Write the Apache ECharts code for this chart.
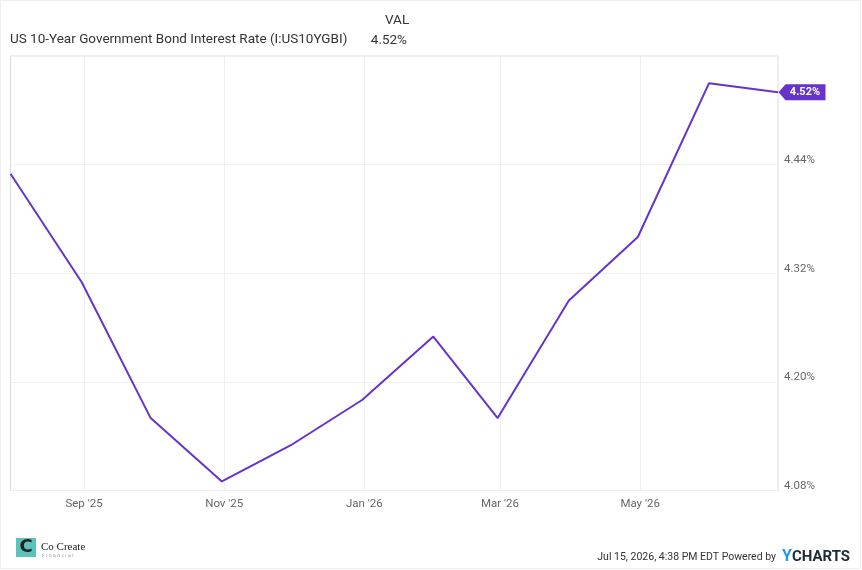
<!DOCTYPE html>
<html>
<head>
<meta charset="utf-8">
<script src="https://cdn.jsdelivr.net/npm/echarts@6/dist/echarts.min.js"></script>
<style>
html,body{margin:0;padding:0;background:#fff;}
#c{width:862px;height:570px;}
</style>
</head>
<body>
<div id="c"></div>
<script>
// ---- data ----
const dates = ['2025-07-31','2025-08-31','2025-09-30','2025-10-31','2025-11-30','2025-12-31',
               '2026-01-31','2026-02-28','2026-03-31','2026-04-30','2026-05-31','2026-06-30'];
const values = [4.43, 4.31, 4.16, 4.09, 4.13, 4.18, 4.25, 4.16, 4.29, 4.36, 4.53, 4.52];
const tickDates = ['2025-09-01','2025-11-01','2026-01-01','2026-03-01','2026-05-01'];
const tickLabels = ["Sep '25","Nov '25","Jan '26","Mar '26","May '26"];
const seriesName = 'US 10-Year Government Bond Interest Rate (I:US10YGBI)';
const lastValueText = '4.52%';
const footerText = 'Jul 15, 2026, 4:38 PM EDT Powered by';

function ts(s){ const p = s.split('-').map(Number); return Date.UTC(p[0], p[1]-1, p[2]); }
const xs = dates.map(ts);
const tickTs = tickDates.map(ts);
const seriesData = xs.map((x,i)=>[x, values[i]]);
const lastPt = seriesData[seriesData.length-1];

const purple = '#6633cc';
const chart = echarts.init(document.getElementById('c'), null, {renderer:'canvas'});
chart.setOption({
  animation:false,
  backgroundColor:'#fff',
  textStyle:{fontFamily:'Roboto, sans-serif'},
  grid:{left:10.5, right:84, top:56, bottom:79.5, show:true, borderColor:'#dcdcdc', borderWidth:1, backgroundColor:'transparent'},
  xAxis:{
    type:'value', min:xs[0], max:xs[xs.length-1],
    axisLine:{show:false}, axisTick:{show:false}, splitLine:{show:false},
    axisLabel:{
      customValues:tickTs, color:'#666', fontSize:11.5, margin:8,
      formatter:(v)=>{ const i = tickTs.indexOf(v); return i>=0 ? tickLabels[i] : ''; }
    }
  },
  yAxis:{
    type:'value', position:'right', min:4.08, max:4.56, interval:0.12,
    axisLine:{show:false}, axisTick:{show:false},
    splitLine:{lineStyle:{color:'#efefef', width:1}},
    axisLabel:{show:true, showMaxLabel:false, color:'#666', fontSize:11.5, margin:6,
      verticalAlign:'bottom', lineHeight:9,
      formatter:(v)=>v.toFixed(2)+'%'}
  },
  series:[
  {
    type:'line', data:[], z:1, silent:true,
    markLine:{
      silent:true, z:1, symbol:['none','none'], label:{show:false},
      lineStyle:{color:'#efefef', type:'solid', width:1},
      data: tickTs.map(t=>({xAxis:t}))
    }
  },
  {
    type:'line', name:seriesName, data:seriesData, showSymbol:false, symbol:'none', z:3,
    lineStyle:{color:purple, width:2}, itemStyle:{color:purple},
    markPoint:{
      silent:true,
      data:[{coord:lastPt, value:lastValueText}],
      symbol:'path://M0,8 L7,0 L47,0 L47,16 L7,16 Z',
      symbolSize:[47,16], symbolOffset:[24,0], symbolKeepAspect:false,
      itemStyle:{color:purple},
      label:{show:true, position:'inside', offset:[3,0], color:'#fff', fontWeight:'bold', fontSize:11,
        formatter:()=>lastValueText}
    }
  }],
  graphic:[
    {type:'rect', shape:{x:0.5,y:0.5,width:860,height:568}, style:{fill:'none', stroke:'#eeeeee', lineWidth:1}, silent:true},
    {type:'text', left:385, top:14, style:{text:'VAL', fill:'#333', fontSize:13.5, fontFamily:'Roboto, sans-serif'}},
    {type:'text', left:10, top:33, style:{text:seriesName, fill:'#333', fontSize:13.5, fontFamily:'Roboto, sans-serif'}},
    {type:'text', x:407, y:41, style:{text:lastValueText, fill:'#333', fontSize:13.5, fontFamily:'Roboto, sans-serif', align:'right', verticalAlign:'middle'}},
    // logo
    {type:'rect', shape:{x:16,y:538,width:20,height:19}, style:{fill:'#5cc3bb'}},
    {type:'text', x:26, y:547.5, style:{text:'C', fill:'#222', fontSize:18, fontWeight:'bold', fontFamily:'DejaVu Sans, sans-serif', align:'center', verticalAlign:'middle'}},
    {type:'text', x:41, y:547, style:{text:'Co Create', fill:'#222', fontSize:11, fontFamily:'Liberation Serif, DejaVu Serif, serif', verticalAlign:'middle'}},
    {type:'text', x:42, y:555.5, style:{text:'F i n a n c i a l', fill:'#888', fontSize:4.5, fontFamily:'DejaVu Sans, sans-serif', verticalAlign:'middle'}},
    // footer right
    {type:'text', x:776, y:557, style:{text:footerText, fill:'#333', fontSize:10.5, fontFamily:'Roboto, sans-serif', align:'right', verticalAlign:'middle'}},
    {type:'text', x:782, y:557, style:{
      text:'{y|Y}{c|CHARTS}', verticalAlign:'middle',
      rich:{
        y:{fill:'#1e9be8', fontSize:16, fontWeight:'bold', fontFamily:'Roboto, sans-serif'},
        c:{fill:'#1d2a3a', fontSize:15, fontWeight:'bold', fontFamily:'Roboto, sans-serif'}
      }
    }}
  ]
});
</script>
</body>
</html>
